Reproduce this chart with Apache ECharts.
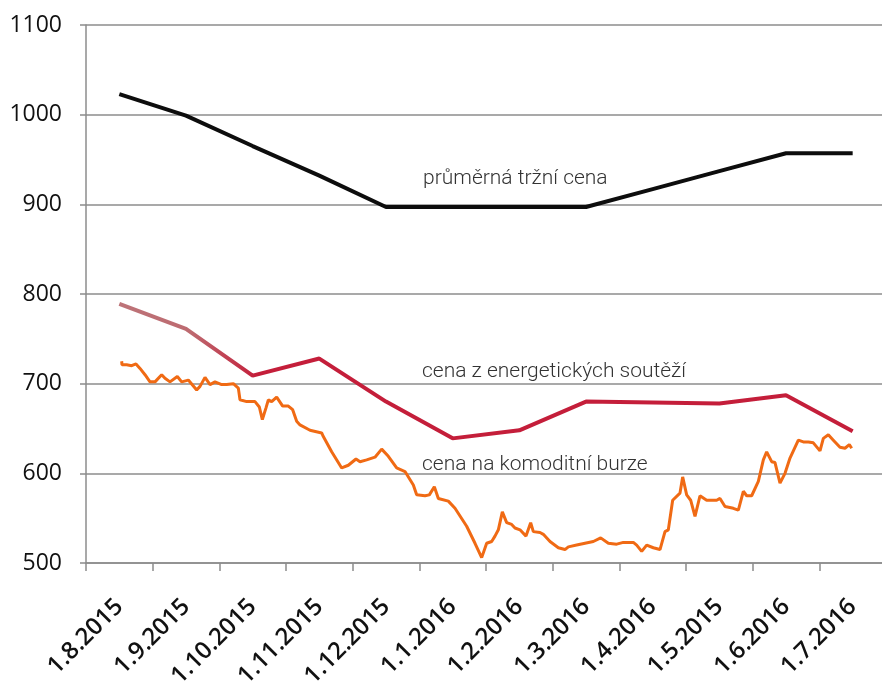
<!DOCTYPE html>
<html>
<head>
<meta charset="utf-8">
<script src="https://cdn.jsdelivr.net/npm/echarts@6/dist/echarts.min.js"></script>
<style>
  html, body { margin: 0; padding: 0; background: #fff; }
  #chart { width: 882px; height: 686px; }
</style>
</head>
<body>
<div id="chart"></div>
<script>
// monthly categories (label typo "1.5.2015" kept as in the source)
const months = ["1.8.2015", "1.9.2015", "1.10.2015", "1.11.2015", "1.12.2015", "1.1.2016",
  "1.2.2016", "1.3.2016", "1.4.2016", "1.5.2015", "1.6.2016", "1.7.2016"];

// průměrná tržní cena
const avgPrice = [1023, 999, 965, 932, 897, 897, 897, 897, 917, 937, 957, 957];
// cena z energetických soutěží
const tenderPrice = [789, 761, 709, 728, 680, 639, 648, 680, 679, 678, 687, 647];

// cena na komoditní burze: position in months from 1.8.2015, and price
const burzaX = [0.535, 0.54, 0.61, 0.685, 0.75, 0.81, 0.885, 0.96, 1.035, 1.135, 1.185, 1.26, 1.37, 1.435,
  1.535, 1.66, 1.71, 1.785, 1.86, 1.935, 2.035, 2.11, 2.21, 2.285, 2.31, 2.41, 2.535, 2.6, 2.645, 2.7,
  2.735, 2.785, 2.86, 2.95, 3.035, 3.1, 3.16, 3.21, 3.36, 3.535, 3.56, 3.685, 3.835, 3.935, 4.05, 4.11,
  4.21, 4.335, 4.435, 4.535, 4.66, 4.785, 4.91, 4.96, 5.085, 5.15, 5.225, 5.285, 5.435, 5.535, 5.71,
  5.835, 5.935, 6.01, 6.085, 6.135, 6.185, 6.245, 6.31, 6.385, 6.435, 6.51, 6.6, 6.67, 6.71, 6.81, 6.86,
  6.96, 7.085, 7.185, 7.235, 7.36, 7.485, 7.51, 7.61, 7.72, 7.835, 7.96, 8.06, 8.21, 8.26, 8.335, 8.41,
  8.51, 8.61, 8.685, 8.735, 8.8, 8.82, 8.91, 8.95, 9.01, 9.07, 9.135, 9.21, 9.31, 9.46, 9.51, 9.585,
  9.71, 9.785, 9.86, 9.91, 9.985, 10.085, 10.16, 10.21, 10.285, 10.335, 10.41, 10.485, 10.56, 10.685,
  10.76, 10.835, 10.91, 11.01, 11.06, 11.135, 11.21, 11.31, 11.385, 11.45, 11.485];
const burzaY = [725, 721, 721, 720, 722, 717, 710, 702, 702, 710, 706, 702, 708, 702,
  704, 693, 697, 707, 699, 702, 699, 699, 700, 695, 682, 680, 680, 674, 660, 673,
  682, 680, 685, 675, 675, 671, 658, 654, 648, 645, 641, 624, 606, 609, 616, 613,
  615, 618, 627, 619, 606, 602, 587, 576, 575, 576, 585, 572, 569, 561, 541,
  522, 506, 522, 524, 530, 537, 557, 545, 543, 539, 537, 530, 545, 535, 534, 532,
  524, 517, 515, 518, 520, 522, 520, 524, 528, 522, 521, 523, 523, 520, 513, 520,
  517, 515, 535, 537, 570, 572, 578, 596, 576, 570, 552, 575, 570, 570, 572, 563,
  561, 559, 580, 575, 575, 591, 615, 624, 613, 612, 589, 600, 617, 637,
  635, 635, 634, 625, 639, 643, 637, 629, 628, 632, 628];

const yTicks = { min: 500, max: 1100, step: 100 };

const gridColor = "#8c8c8c";
const chart = echarts.init(document.getElementById("chart"), null, { renderer: "canvas" });

chart.setOption({
  backgroundColor: "#fff",
  animation: false,
  grid: { left: 86, right: -4, top: 25, bottom: 123, containLabel: false, outerBoundsMode: "none" },
  xAxis: [
    {
      type: "category",
      data: months,
      boundaryGap: true,
      axisLine: { show: true, lineStyle: { color: gridColor, width: 1.5 } },
      axisTick: { show: true, length: 8, inside: false, lineStyle: { color: gridColor, width: 1.5 } },
      axisLabel: {
        rotate: 45,
        margin: 40,
        interval: 0,
        color: "#111",
        fontFamily: "Open Sans",
        fontWeight: 600,
        fontSize: 24
      },
      splitLine: { show: false }
    },
    {
      type: "value",
      min: 0,
      max: 12,
      show: false
    }
  ],
  yAxis: {
    type: "value",
    min: yTicks.min,
    max: yTicks.max,
    interval: yTicks.step,
    axisLine: { show: true, lineStyle: { color: gridColor, width: 1.5 } },
    axisTick: { show: true, length: 6, lineStyle: { color: gridColor, width: 1.5 } },
    axisLabel: {
      color: "#111",
      fontFamily: "Open Sans",
      fontSize: 23,
      margin: 24,
      formatter: (v) => String(v)
    },
    splitLine: { show: true, lineStyle: { color: gridColor, width: 1.5 } }
  },
  series: [
    {
      name: "průměrná tržní cena",
      type: "line",
      xAxisIndex: 0,
      data: avgPrice,
      symbol: "none",
      lineStyle: { color: "#0d0d0d", width: 4 },
      z: 3
    },
    {
      name: "cena z energetických soutěží",
      type: "line",
      xAxisIndex: 0,
      data: tenderPrice,
      symbol: "none",
      lineStyle: {
        width: 4,
        color: new echarts.graphic.LinearGradient(0, 0, 1, 0, [
          { offset: 0, color: "#bd7479" },
          { offset: 0.1, color: "#bd6a70" },
          { offset: 0.19, color: "#c41e3a" },
          { offset: 1, color: "#c41e3a" }
        ])
      },
      z: 3
    },
    {
      name: "cena na komoditní burze",
      type: "line",
      xAxisIndex: 1,
      data: burzaX.map((x, i) => [x, burzaY[i]]),
      symbol: "none",
      lineStyle: { color: "#f06a14", width: 3 },
      z: 2
    }
  ],
  graphic: [
    { type: "text", left: 423, top: 168, style: { text: "průměrná tržní cena", fill: "#333", font: "300 21px Roboto" } },
    { type: "text", left: 422, top: 361, style: { text: "cena z energetických soutěží", fill: "#333", font: "300 21px Roboto" } },
    { type: "text", left: 422, top: 454, style: { text: "cena na komoditní burze", fill: "#333", font: "300 21px Roboto" } }
  ]
});
</script>
</body>
</html>
